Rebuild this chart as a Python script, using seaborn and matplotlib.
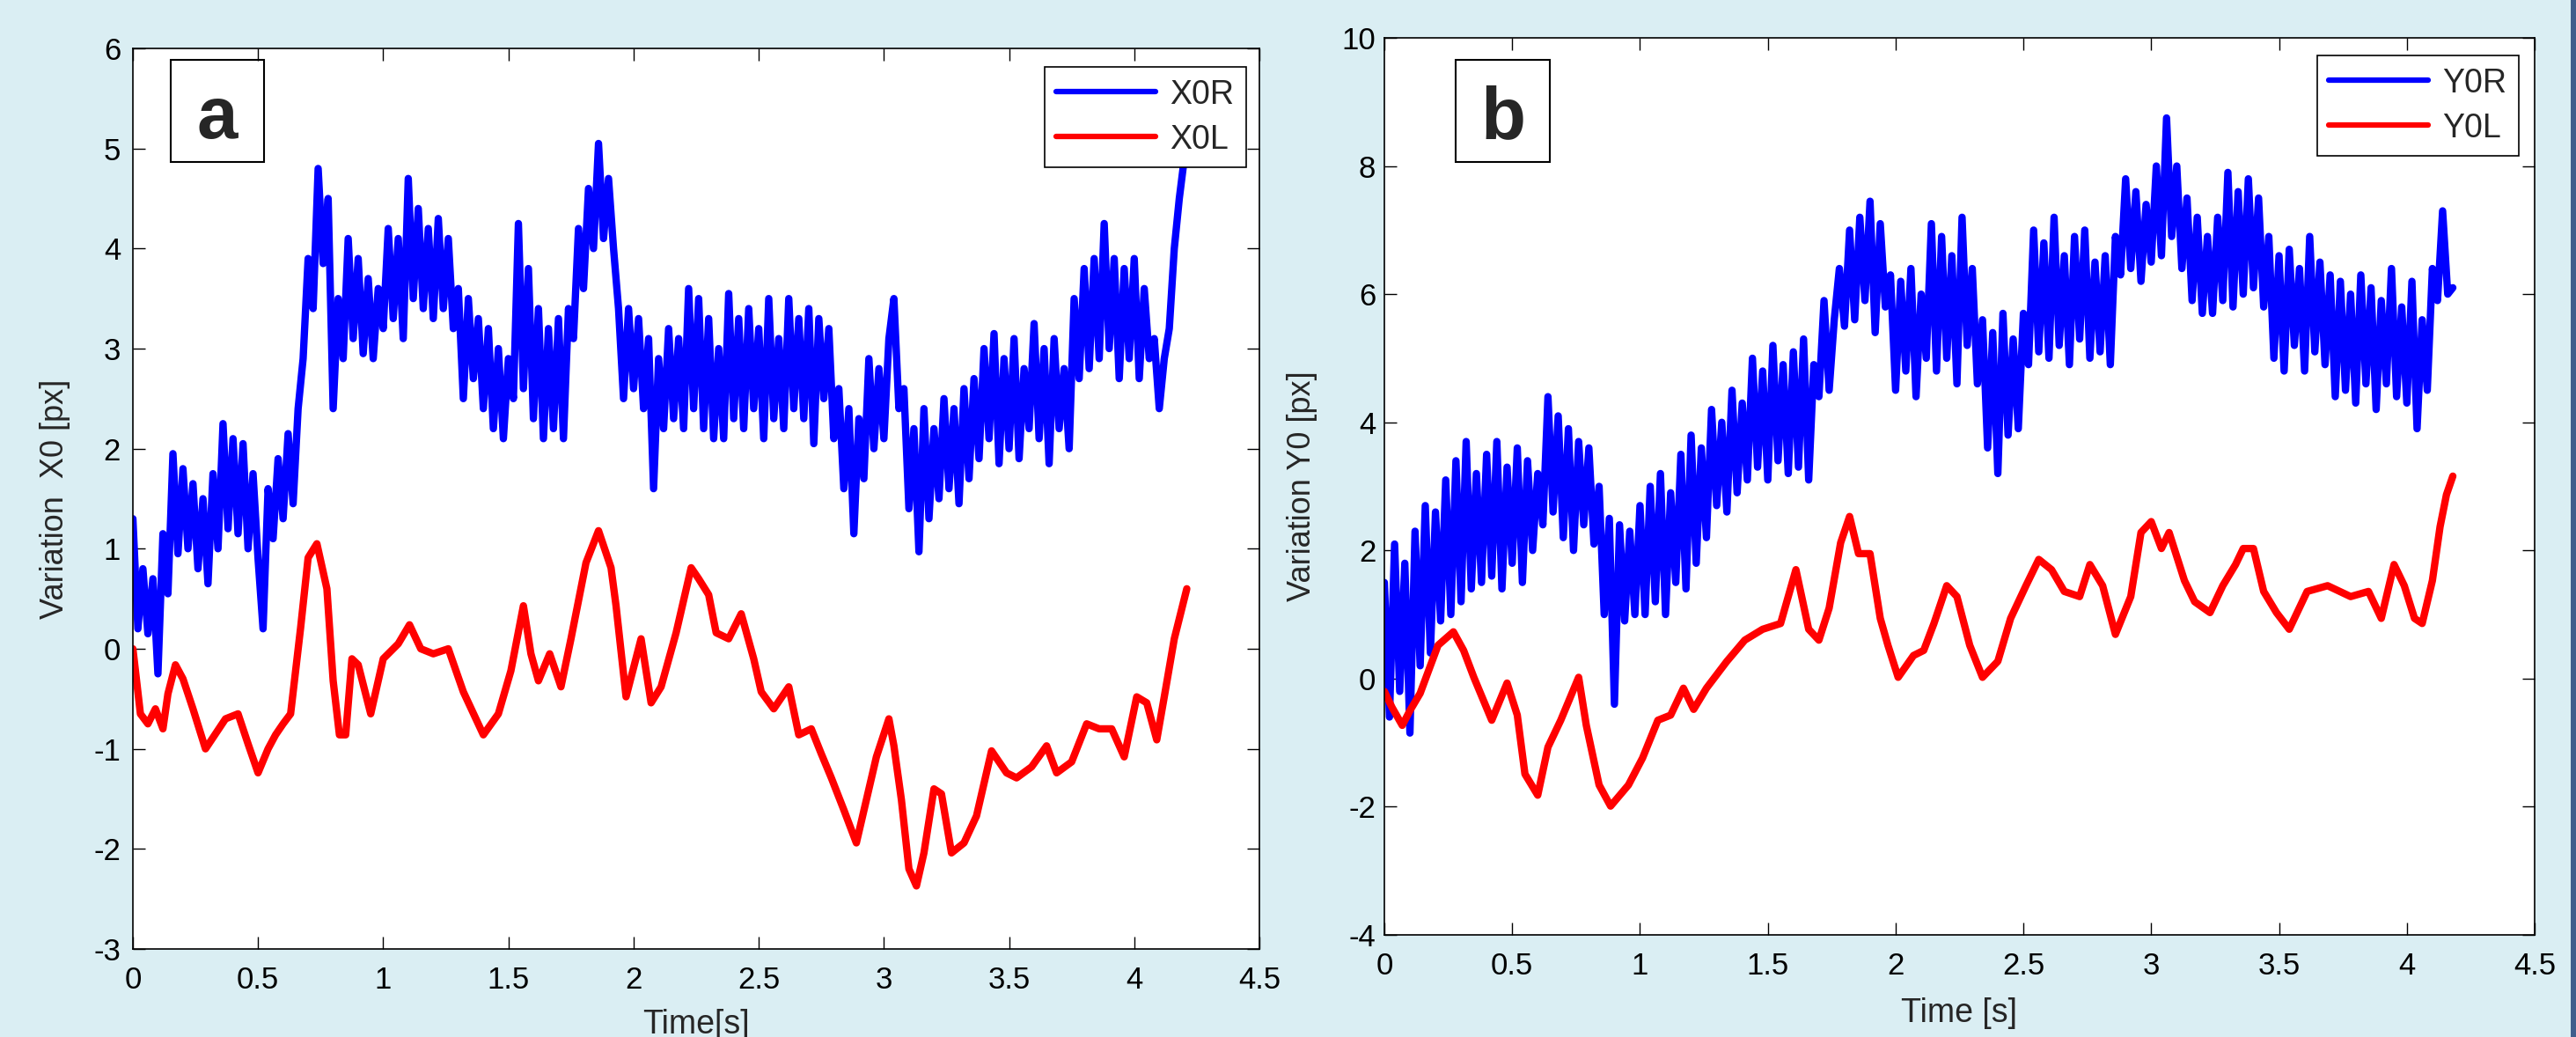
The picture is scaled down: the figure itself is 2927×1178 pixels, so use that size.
import numpy as np
import pandas as pd
import matplotlib
matplotlib.use("Agg")
import matplotlib.pyplot as plt
import seaborn as sns
from matplotlib.patches import Rectangle

# --- data --------------------------------------------------------------
# right-eye traces are very noisy: read every 0.02 s (alternating high/low)
dt_r = 0.02

# panel a, X0R
x0r = [1.30, 0.20, 0.80, 0.15, 0.70, -0.25, 1.15, 0.55, 1.95, 0.95,
       1.80, 1.00, 1.65, 0.80, 1.50, 0.65, 1.75, 1.00, 2.25, 1.20,
       2.10, 1.15, 2.05, 1.00, 1.75, 0.90, 0.20, 1.60, 1.10, 1.90,
       1.30, 2.15, 1.45, 2.40, 2.90, 3.90, 3.40, 4.80, 3.85, 4.50,
       2.40, 3.50, 2.90, 4.10, 3.10, 3.90, 2.95, 3.70, 2.90, 3.60,
       3.20, 4.20, 3.30, 4.10, 3.10, 4.70, 3.50, 4.40, 3.40, 4.20,
       3.30, 4.30, 3.40, 4.10, 3.20, 3.60, 2.50, 3.50, 2.70, 3.30,
       2.40, 3.20, 2.20, 3.00, 2.10, 2.90, 2.50, 4.25, 2.60, 3.80,
       2.30, 3.40, 2.10, 3.20, 2.20, 3.30, 2.10, 3.40, 3.10, 4.20,
       3.60, 4.60, 4.00, 5.05, 4.10, 4.70, 4.00, 3.40, 2.50, 3.40,
       2.60, 3.30, 2.40, 3.10, 1.60, 2.90, 2.20, 3.20, 2.30, 3.10,
       2.20, 3.60, 2.40, 3.50, 2.20, 3.30, 2.10, 3.00, 2.10, 3.55,
       2.30, 3.30, 2.20, 3.40, 2.40, 3.20, 2.10, 3.50, 2.30, 3.10,
       2.20, 3.50, 2.40, 3.30, 2.30, 3.40, 2.05, 3.30, 2.50, 3.20,
       2.10, 2.60, 1.60, 2.40, 1.15, 2.30, 1.70, 2.90, 2.00, 2.80,
       2.10, 3.10, 3.50, 2.40, 2.60, 1.40, 2.20, 0.97, 2.40, 1.30,
       2.20, 1.50, 2.50, 1.60, 2.40, 1.45, 2.60, 1.70, 2.70, 1.90,
       3.00, 2.10, 3.15, 1.85, 2.90, 2.00, 3.10, 1.90, 2.80, 2.20,
       3.25, 2.10, 3.00, 1.85, 3.10, 2.20, 2.80, 2.00, 3.50, 2.70,
       3.80, 2.80, 3.90, 2.90, 4.25, 3.00, 3.90, 2.70, 3.80, 2.90,
       3.90, 2.70, 3.60, 2.90, 3.10, 2.40, 2.90, 3.20, 4.00, 4.50,
       4.90]

# panel a, X0L (smoother, read at turning points)
x0l_t = [0.00, 0.03, 0.06, 0.09, 0.12, 0.14, 0.17, 0.20, 0.24, 0.29,
         0.33, 0.37, 0.42, 0.46, 0.50, 0.54, 0.57, 0.60, 0.63, 0.67,
         0.70, 0.735, 0.775, 0.80, 0.825, 0.85, 0.875, 0.90, 0.95, 1.00,
         1.06, 1.105, 1.15, 1.20, 1.26, 1.32, 1.40, 1.46, 1.51, 1.56,
         1.59, 1.62, 1.665, 1.71, 1.75, 1.81, 1.86, 1.91, 1.93, 1.97,
         2.03, 2.07, 2.11, 2.17, 2.23, 2.26, 2.30, 2.33, 2.38, 2.43,
         2.48, 2.51, 2.56, 2.62, 2.66, 2.71, 2.75, 2.79, 2.84, 2.89,
         2.93, 2.97, 3.02, 3.04, 3.07, 3.10, 3.13, 3.16, 3.20, 3.23,
         3.27, 3.32, 3.37, 3.43, 3.49, 3.53, 3.59, 3.65, 3.69, 3.75,
         3.81, 3.86, 3.91, 3.96, 4.01, 4.05, 4.09, 4.12, 4.16, 4.21]
x0l = [0.00, -0.65, -0.75, -0.60, -0.80, -0.45, -0.16, -0.30, -0.60, -1.00,
       -0.85, -0.70, -0.65, -0.95, -1.24, -1.00, -0.86, -0.75, -0.65, 0.21,
       0.91, 1.05, 0.60, -0.32, -0.86, -0.86, -0.10, -0.16, -0.65, -0.10,
       0.05, 0.24, 0.00, -0.05, 0.00, -0.43, -0.86, -0.65, -0.22, 0.43,
       -0.05, -0.32, -0.05, -0.38, 0.10, 0.86, 1.18, 0.81, 0.43, -0.48,
       0.10, -0.54, -0.38, 0.16, 0.81, 0.70, 0.54, 0.16, 0.10, 0.35,
       -0.10, -0.43, -0.60, -0.38, -0.86, -0.80, -1.05, -1.29, -1.61, -1.94,
       -1.51, -1.08, -0.70, -0.97, -1.51, -2.20, -2.37, -2.04, -1.40, -1.45,
       -2.04, -1.94, -1.67, -1.02, -1.24, -1.29, -1.18, -0.97, -1.24, -1.13,
       -0.75, -0.80, -0.80, -1.08, -0.48, -0.54, -0.91, -0.48, 0.10, 0.60]

# panel b, Y0R
y0r = [1.50, -0.60, 2.10, -0.20, 1.80, -0.85, 2.30, 0.20, 2.70, 0.40,
       2.60, 0.90, 3.10, 1.00, 3.40, 1.20, 3.70, 1.40, 3.20, 1.50,
       3.50, 1.60, 3.70, 1.40, 3.30, 1.80, 3.60, 1.50, 3.40, 2.00,
       3.20, 2.40, 4.40, 2.60, 4.10, 2.20, 3.90, 2.00, 3.70, 2.40,
       3.60, 2.10, 3.00, 1.00, 2.50, -0.40, 2.40, 0.90, 2.30, 1.00,
       2.70, 1.00, 3.00, 1.20, 3.20, 1.00, 2.90, 1.50, 3.50, 1.40,
       3.80, 1.80, 3.60, 2.20, 4.20, 2.70, 4.00, 2.60, 4.50, 2.90,
       4.30, 3.10, 5.00, 3.30, 4.80, 3.10, 5.20, 3.40, 4.90, 3.20,
       5.10, 3.30, 5.30, 3.10, 4.90, 4.40, 5.90, 4.50, 5.60, 6.40,
       5.50, 7.00, 5.60, 7.20, 5.90, 7.45, 5.40, 7.10, 5.80, 6.30,
       4.50, 6.20, 4.80, 6.40, 4.40, 6.00, 5.00, 7.10, 4.80, 6.90,
       5.00, 6.60, 4.60, 7.20, 5.20, 6.40, 4.60, 5.60, 3.60, 5.40,
       3.20, 5.70, 3.80, 5.30, 3.90, 5.70, 4.90, 7.00, 5.10, 6.80,
       5.00, 7.20, 5.20, 6.60, 4.90, 6.90, 5.30, 7.00, 5.00, 6.50,
       5.10, 6.60, 4.90, 6.90, 6.30, 7.80, 6.40, 7.60, 6.20, 7.40,
       6.50, 8.00, 6.60, 8.75, 6.90, 8.00, 6.40, 7.50, 5.90, 7.20,
       5.70, 6.90, 5.70, 7.20, 5.90, 7.90, 5.80, 7.60, 6.00, 7.80,
       6.10, 7.50, 5.80, 6.90, 5.00, 6.60, 4.80, 6.70, 5.20, 6.40,
       4.80, 6.90, 5.10, 6.50, 4.90, 6.30, 4.40, 6.20, 4.50, 6.00,
       4.30, 6.30, 4.60, 6.10, 4.20, 5.90, 4.60, 6.40, 4.40, 5.80,
       4.30, 6.20, 3.90, 5.60, 4.50, 6.40, 5.90, 7.30, 6.00, 6.10]

# panel b, Y0L
y0l_t = [0.00, 0.03, 0.07, 0.10, 0.14, 0.18, 0.21, 0.27, 0.31, 0.35,
         0.42, 0.48, 0.52, 0.55, 0.60, 0.64, 0.69, 0.76, 0.79, 0.84,
         0.885, 0.955, 1.01, 1.07, 1.12, 1.17, 1.21, 1.26, 1.34, 1.41,
         1.48, 1.55, 1.61, 1.66, 1.70, 1.74, 1.785, 1.82, 1.855, 1.90,
         1.94, 1.97, 2.01, 2.07, 2.11, 2.15, 2.20, 2.24, 2.29, 2.34,
         2.40, 2.45, 2.51, 2.56, 2.61, 2.66, 2.72, 2.76, 2.81, 2.86,
         2.92, 2.96, 3.00, 3.04, 3.07, 3.13, 3.17, 3.23, 3.28, 3.33,
         3.36, 3.40, 3.44, 3.49, 3.54, 3.61, 3.69, 3.78, 3.85, 3.90,
         3.95, 3.99, 4.03, 4.06, 4.10, 4.13, 4.155, 4.18]
y0l = [-0.20, -0.45, -0.73, -0.50, -0.23, 0.20, 0.52, 0.73, 0.44, 0.02,
       -0.65, -0.07, -0.57, -1.49, -1.82, -1.07, -0.65, 0.02, -0.73, -1.66,
       -1.99, -1.66, -1.24, -0.65, -0.57, -0.15, -0.48, -0.15, 0.27, 0.60,
       0.77, 0.86, 1.70, 0.77, 0.60, 1.10, 2.12, 2.53, 1.95, 1.95,
       0.94, 0.52, 0.02, 0.36, 0.44, 0.86, 1.45, 1.28, 0.52, 0.02,
       0.27, 0.94, 1.45, 1.86, 1.70, 1.36, 1.28, 1.78, 1.45, 0.69,
       1.28, 2.28, 2.45, 2.03, 2.28, 1.53, 1.20, 1.03, 1.45, 1.78,
       2.03, 2.03, 1.36, 1.03, 0.77, 1.36, 1.45, 1.28, 1.36, 0.94,
       1.78, 1.45, 0.94, 0.86, 1.53, 2.37, 2.87, 3.16]

x_ticks = [0, 0.5, 1, 1.5, 2, 2.5, 3, 3.5, 4, 4.5]
x_tick_labels = ["0", "0.5", "1", "1.5", "2", "2.5", "3", "3.5", "4", "4.5"]
ya_ticks = [-3, -2, -1, 0, 1, 2, 3, 4, 5, 6]
yb_ticks = [-4, -2, 0, 2, 4, 6, 8, 10]

# --- figure ---------------------------------------------------------------
sns.set_style("ticks")
plt.rcParams["font.family"] = ["Liberation Sans", "DejaVu Sans"]
plt.rcParams["axes.unicode_minus"] = False

bg = "#DAEEF3"
W, H = 2927, 1178
fig = plt.figure(figsize=(W / 100, H / 100), dpi=100, facecolor=bg)


def axes_px(left, top, right, bottom):
    return fig.add_axes([left / W, 1 - bottom / H, (right - left) / W, (bottom - top) / H])


ax_a = axes_px(151, 55, 1431, 1078)
ax_b = axes_px(1573, 43, 2880, 1062)

df_a = pd.concat([
    pd.DataFrame({"t": np.arange(len(x0r)) * dt_r, "v": x0r, "s": "X0R"}),
    pd.DataFrame({"t": x0l_t, "v": x0l, "s": "X0L"}),
])
df_b = pd.concat([
    pd.DataFrame({"t": np.arange(len(y0r)) * dt_r, "v": y0r, "s": "Y0R"}),
    pd.DataFrame({"t": y0l_t, "v": y0l, "s": "Y0L"}),
])

panels = [
    (ax_a, df_a, ["X0R", "X0L"], ya_ticks, "Variation  X0 [px]", "Time[s]", "a",
     10, (-0.0555, 0.5), (0.5, -0.066), (0.988, 0.979),
     (0.0336, 0.8739, 0.0828, 0.1134), (0.075, 0.9003)),
    (ax_b, df_b, ["Y0R", "Y0L"], yb_ticks, "Variation Y0 [px]", "Time [s]", "b",
     7, (-0.058, 0.5), (0.5, -0.0697), (0.986, 0.980),
     (0.062, 0.8616, 0.0818, 0.1139), (0.1035, 0.8881)),
]

for (ax, df, order, yt, ylab, xlab, tag, ypad, ylc, xlc, leg_anchor, box, tag_xy) in panels:
    ax.set_facecolor("white")
    sns.lineplot(data=df, x="t", y="v", hue="s", hue_order=order,
                 palette={order[0]: "#0000FF", order[1]: "#FF0000"},
                 estimator=None, sort=False, lw=6, ax=ax)

    ax.set_xlim(0, 4.5)
    ax.set_ylim(yt[0], yt[-1])
    ax.set_xticks(x_ticks)
    ax.set_xticklabels(x_tick_labels)
    ax.set_yticks(yt)
    ax.tick_params(direction="in", length=10, width=1, top=True, right=True,
                   labelsize=25, colors="black")
    ax.tick_params(axis="x", pad=14)
    ax.tick_params(axis="y", pad=ypad)
    for sp in ax.spines.values():
        sp.set_color("black")
        sp.set_linewidth(1.2)

    ax.set_ylabel(ylab, fontsize=26)
    ax.yaxis.set_label_coords(*ylc)
    ax.set_xlabel(xlab, fontsize=27)
    ax.xaxis.set_label_coords(*xlc)

    handles, labels = ax.get_legend_handles_labels()
    leg = ax.legend(handles, labels, loc="upper right", bbox_to_anchor=leg_anchor,
                    borderaxespad=0, fontsize=27, frameon=True, fancybox=False,
                    edgecolor="black", framealpha=1, handlelength=3.0,
                    handletextpad=0.45, borderpad=0.35, labelspacing=0.4)
    leg.get_frame().set_linewidth(1.2)
    for ln in leg.get_lines():
        ln.set_linewidth(4.5)

    ax.add_patch(Rectangle(box[:2], box[2], box[3], transform=ax.transAxes,
                           fill=False, ec="black", lw=1.5, zorder=5))
    ax.text(tag_xy[0], tag_xy[1], tag, transform=ax.transAxes, ha="center",
            va="baseline", fontsize=60, fontweight="bold", zorder=6)

# dark strip on the right edge of the slide
fig.add_artist(Rectangle((2921 / W, 0), 6 / W, 1, transform=fig.transFigure,
                         color="#3F5E8C", lw=0))

fig.savefig("out.png", dpi=100, facecolor=bg)
